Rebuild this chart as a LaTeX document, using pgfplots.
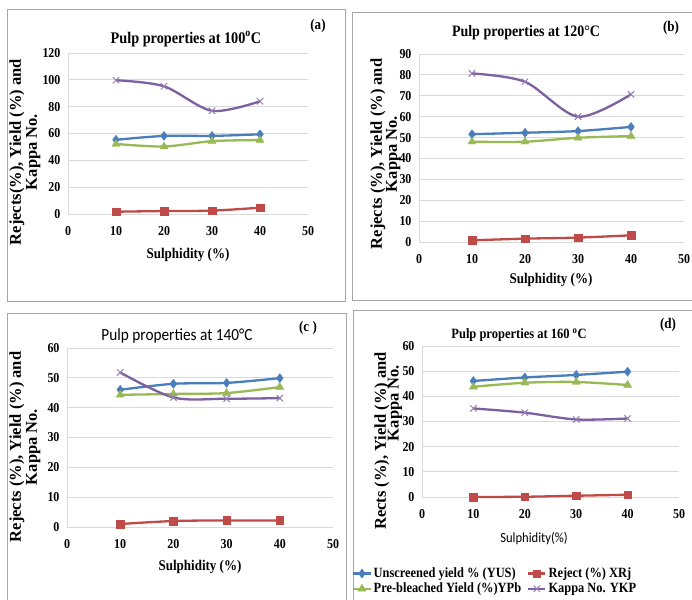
\documentclass[border=0pt]{standalone}
\usepackage{fontspec}
\setmainfont{Liberation Serif}[FakeStretch=0.88]
\newfontfamily\plainserif{Liberation Serif}
\newfontfamily\calib{Carlito}[FakeStretch=0.9]
\usepackage{pgfplots}
\usepackage{pgfplotstable}
\pgfplotsset{compat=1.18}

\definecolor{cBlue}{HTML}{4A7EBB}
\definecolor{cRed}{HTML}{BE4B48}
\definecolor{cGreen}{HTML}{98B954}
\definecolor{cPurple}{HTML}{7D60A0}
\definecolor{cGrid}{HTML}{D9D9D9}
\definecolor{cFrame}{HTML}{A6A6A6}

\pgfplotstableread{
x yus xrj ypb ykp
10 55.3 1.7 52.2 99.7
20 58.2 2.2 50.3 95.2
30 58.2 2.5 54.3 76.9
40 59.4 4.7 55.1 84.0
}\tA
\pgfplotstableread{
x yus xrj ypb ykp
10 51.6 0.8 48.0 80.7
20 52.3 1.6 48.0 76.7
30 53.1 2.1 49.9 60.0
40 55.1 3.2 50.7 70.7
}\tB
\pgfplotstableread{
x yus xrj ypb ykp
10 46.0 1.0 44.3 51.8
20 48.0 2.0 44.6 43.4
30 48.3 2.2 44.9 43.0
40 49.9 2.2 46.9 43.2
}\tC
\pgfplotstableread{
x yus xrj ypb ykp
10 46.1 0.0 43.8 35.2
20 47.5 0.1 45.4 33.5
30 48.5 0.5 45.7 30.8
40 49.8 0.9 44.5 31.2
}\tD

\pgfplotsset{
  panel/.style={
    scale only axis, anchor=south west,
    xmin=0, xmax=50, ymin=0,
    xtick={0,10,...,50},
    axis x line*=bottom, axis y line*=left,
    ymajorgrids, grid style={cGrid, line width=0.8pt},
    axis line style={cGrid, line width=0.8pt},
    major tick length=0pt,
    tick label style={font=\fontsize{13.6}{13.6}\selectfont\bfseries},
    /pgf/number format/assume math mode=true,
    xticklabel style={yshift=-9pt},
    yticklabel style={xshift=-4pt},
    clip=false,
  },
  yus/.style={cBlue, line width=2.3pt, smooth, tension=0.5, mark=diamond*, mark size=4.5pt, mark options={solid, fill=cBlue, line width=0.4pt}},
  xrj/.style={cRed, line width=2.3pt, smooth, tension=0.5, mark=square*, mark size=3.8pt, mark options={solid, fill=cRed, line width=0.4pt}},
  ypb/.style={cGreen, line width=2.3pt, smooth, tension=0.5, mark=triangle*, mark size=4.6pt, mark options={solid, fill=cGreen, line width=0.4pt}},
  ykp/.style={cPurple, line width=2.3pt, smooth, tension=0.5, mark=x, mark size=4.5pt, mark options={solid, line width=1pt, draw=cPurple!80!white}},
}

\begin{document}
\begin{tikzpicture}[x=1pt,y=1pt]
\useasboundingbox (0,0) rectangle (692,599);
\fill[white] (0,0) rectangle (692,599);
% frames
\draw[cFrame, line width=0.9pt] (7,590) rectangle (345,298);
\draw[cFrame, line width=0.9pt] (352,587) -- (700,587) (352,587) -- (352,299) -- (700,299);
\draw[cFrame, line width=0.9pt] (7,-10) -- (7,286) -- (346,286) -- (346,-10);
\draw[cFrame, line width=0.9pt] (353,-10) -- (353,289) -- (700,289);

% ---------- (a)
\begin{axis}[panel, at={(68pt,385pt)}, width=240pt, height=161pt, ymax=120, ytick={0,20,...,120}]
\addplot[yus] table[x=x,y=yus]{\tA};
\addplot[xrj] table[x=x,y=xrj]{\tA};
\addplot[ypb] table[x=x,y=ypb]{\tA};
\addplot[ykp] table[x=x,y=ykp]{\tA};
\end{axis}
\node[font=\fontsize{16.2}{16.2}\selectfont\bfseries] at (186pt,560pt) {Pulp properties at 100\textsuperscript{o}C};
\node[font=\fontsize{14.8}{14.8}\selectfont\bfseries] at (318pt,573pt) {(a)};
\node[font=\fontsize{14.8}{14.8}\selectfont\bfseries] at (188pt,344pt) {Sulphidity (\%)};
\node[rotate=90, align=center, font=\fontsize{16.5}{16}\selectfont\plainserif\bfseries] at (25pt,447pt) {Rejects(\%), Yield (\%) and\\Kappa No.};

% ---------- (b)
\begin{axis}[panel, at={(419pt,357pt)}, width=265pt, height=188pt, ymax=90, ytick={0,10,...,90}]
\addplot[yus] table[x=x,y=yus]{\tB};
\addplot[xrj] table[x=x,y=xrj]{\tB};
\addplot[ypb] table[x=x,y=ypb]{\tB};
\addplot[ykp] table[x=x,y=ykp]{\tB};
\end{axis}
\node[font=\fontsize{15.9}{15.9}\selectfont\bfseries] at (526pt,566pt) {Pulp properties at 120°C};
\node[font=\fontsize{14.8}{14.8}\selectfont\bfseries] at (671pt,571pt) {(b)};
\node[font=\fontsize{14.8}{14.8}\selectfont\bfseries] at (551pt,319pt) {Sulphidity (\%)};
\node[rotate=90, align=center, font=\fontsize{16.5}{15}\selectfont\plainserif\bfseries] at (385.5pt,445pt) {Rejects (\%), Yield (\%) and\\Kappa No.};

% ---------- (c)
\begin{axis}[panel, at={(67pt,72pt)}, width=266pt, height=179pt, ymax=60, ytick={0,10,...,60}]
\addplot[yus] table[x=x,y=yus]{\tC};
\addplot[xrj] table[x=x,y=xrj]{\tC};
\addplot[ypb] table[x=x,y=ypb]{\tC};
\addplot[ykp] table[x=x,y=ykp]{\tC};
\end{axis}
\node[font=\fontsize{17}{17}\selectfont\calib] at (177pt,263pt) {Pulp properties at 140°C};
\node[font=\fontsize{14.8}{14.8}\selectfont\bfseries] at (308pt,271pt) {(c )};
\node[font=\fontsize{14.8}{14.8}\selectfont\bfseries] at (200pt,32pt) {Sulphidity (\%)};
\node[rotate=90, align=center, font=\fontsize{16.5}{16}\selectfont\plainserif\bfseries] at (25pt,152pt) {Rejects (\%), Yield (\%) and\\Kappa No.};

% ---------- (d)
\begin{axis}[panel, at={(422pt,102pt)}, width=257pt, height=151pt, ymax=60, ytick={0,10,...,60},
  legend columns=2,
  legend style={at={(-0.272,-0.455)}, anchor=north west, draw=none, fill=none, inner sep=0pt,
    font=\fontsize{14.1}{14.1}\selectfont\bfseries, row sep=0pt,
    /tikz/every even column/.append style={column sep=4pt}},
  legend cell align=left]
\addplot[yus] table[x=x,y=yus]{\tD};
\addlegendentry{Unscreened yield \% (YUS)}
\addplot[xrj] table[x=x,y=xrj]{\tD};
\addlegendentry{Reject (\%) XRj}
\addplot[ypb] table[x=x,y=ypb]{\tD};
\addlegendentry{Pre-bleached Yield (\%)YPb}
\addplot[ykp] table[x=x,y=ykp]{\tD};
\addlegendentry{Kappa No. YKP}
\end{axis}
\node[font=\fontsize{14.2}{14.2}\selectfont\bfseries] at (519pt,264pt) {Pulp properties at 160 \textsuperscript{o}C};
\node[font=\fontsize{14.8}{14.8}\selectfont\bfseries] at (668pt,274pt) {(d)};
\node[font=\fontsize{14}{14}\selectfont\calib] at (534pt,60pt) {Sulphidity(\%)};
\node[rotate=90, font=\fontsize{16.5}{16}\selectfont\plainserif\bfseries] at (382pt,158pt) {Rects (\%), Yield (\%) and};
\node[rotate=90, font=\fontsize{16.5}{16}\selectfont\plainserif\bfseries] at (395pt,196pt) {Kappa No.};
\end{tikzpicture}
\end{document}
